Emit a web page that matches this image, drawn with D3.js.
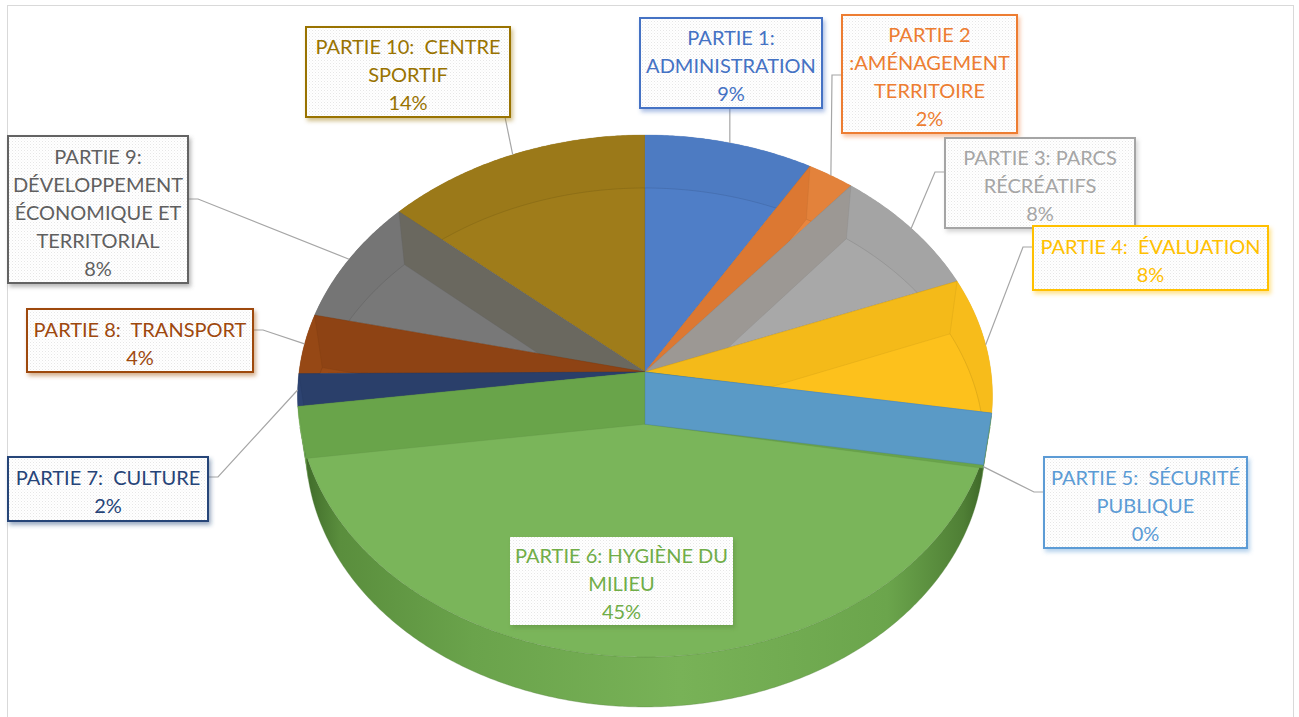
<!DOCTYPE html>
<html><head><meta charset="utf-8">
<script src="https://cdn.jsdelivr.net/npm/d3@7"></script>
<style>
body{margin:0;background:#fff;}
svg text{font-family:Lato,"Open Sans",sans-serif;white-space:pre;}
</style>
</head><body>
<svg id="chart" width="1299" height="717"></svg>
<script>
// ---------------- DATA ----------------
const categoryLines = [
  ["PARTIE 1:", "ADMINISTRATION"],
  ["PARTIE 2", ":AMÉNAGEMENT", "TERRITOIRE"],
  ["PARTIE 3: PARCS", "RÉCRÉATIFS"],
  ["PARTIE 4:  ÉVALUATION"],
  ["PARTIE 5:  SÉCURITÉ", "PUBLIQUE"],
  ["PARTIE 6: HYGIÈNE DU", "MILIEU"],
  ["PARTIE 7:  CULTURE"],
  ["PARTIE 8:  TRANSPORT"],
  ["PARTIE 9:", "DÉVELOPPEMENT", "ÉCONOMIQUE ET", "TERRITORIAL"],
  ["PARTIE 10:  CENTRE", "SPORTIF"]
];
const values = [8.6, 2.4, 8.1, 8.4, 0.2, 45.2, 2.0, 3.7, 7.8, 13.6];

// ---------------- STYLE ----------------
const paletteBase = ["#4472C4","#ED7D31","#A5A5A5","#FFC000","#5B9BD5","#70AD47","#264478","#9E480E","#636363","#997300"];
const topColors   = ["#4F7EC7","#E9853D","#A8A8A8","#FDC11C","#5B9BC9","#7AB55A","#2E4574","#9A4A16","#787878","#9F7C1A"];
const faceColors  = ["#4A76BC","#DC7832","#9C9894","#F4BA19","#5A9AC6","#69A44A","#2A3F6A","#8E4314","#6A685F","#93721A"];
const textColors  = ["#4472C4","#ED7D31","#A5A5A5","#FFC000","#5B9BD5","#70AD47","#264478","#9E480E","#5F5F5F","#997300"];
const paintOrder  = [9,0,1,8,2,3,7,6,5,4];

// label boxes (layout)
const boxes = [
 {x:640,y:18,w:182,h:90, side:"bottom"},
 {x:842,y:15,w:175,h:118, side:"left", ay:60},
 {x:945,y:138,w:190,h:90, side:"left", ay:34},
 {x:1033,y:226,w:235,h:64, side:"left", ay:21},
 {x:1044,y:457,w:203,h:91, side:"left", ay:35},
 {x:510,y:537,w:223,h:88, side:"none"},
 {x:8,y:457,w:200,h:64, side:"right", ay:20},
 {x:27,y:309,w:226,h:63, side:"right", ay:21},
 {x:8,y:136,w:180,h:147, side:"right", ay:63},
 {x:306,y:27,w:204,h:90, side:"bottom", ax:199}
];
const anchorDepth = [0,0,0,0,1,0,0,0,0,0];

// ---------------- PROJECTION ----------------
const cx = 645, cy = 372, F = 2498, L = 7.22;
const se = 0.748, ce = Math.sqrt(1 - se*se), depth = 0.2327;
function P(theta, r, z){
  const x = r*Math.sin(theta), y = r*Math.cos(theta);
  const zc = y*ce + L - z*se;
  const up = y*se + z*ce;
  return [cx + F*x/zc, cy - F*up/zc];
}
function arcPts(a, b, z){
  const n = Math.max(2, Math.ceil(Math.abs(b-a)/(Math.PI/360)));
  const pts = [];
  for(let i=0;i<=n;i++){ const t = a + (b-a)*i/n; pts.push(P(t,1,z)); }
  return pts;
}
const line = d3.line();
const closed = pts => line(pts) + "Z";
const thetaS = Math.acos(-1/(L*ce)); // silhouette angle

const total = d3.sum(values);
const pie = d3.pie().sort(null).value(d=>d).startAngle(0).endAngle(2*Math.PI);
const arcs = pie(values);

const svg = d3.select("#chart");
const defs = svg.append("defs");

// front wall gradient
const grad = defs.append("linearGradient").attr("id","frontGrad")
  .attr("gradientUnits","userSpaceOnUse").attr("x1",299).attr("x2",991).attr("y1",0).attr("y2",0);
[[0,"#3c6627"],[0.06,"#5a8e3d"],[0.25,"#6aa34b"],[0.55,"#78b257"],[0.85,"#6ba54c"],[0.96,"#4f7f35"],[1,"#385f24"]]
  .forEach(s=>grad.append("stop").attr("offset",s[0]).attr("stop-color",s[1]));

// label texture
const pat = defs.append("pattern").attr("id","tex").attr("width",3).attr("height",3).attr("patternUnits","userSpaceOnUse");
pat.append("rect").attr("width",3).attr("height",3).attr("fill","#ffffff");
pat.append("rect").attr("width",1).attr("height",1).attr("fill","#e6e6e6");
pat.append("rect").attr("x",1.5).attr("y",1.5).attr("width",1).attr("height",1).attr("fill","#efefef");

// chart frame
svg.append("rect").attr("x",7.5).attr("y",5.5).attr("width",1286).attr("height",730)
  .attr("fill","none").attr("stroke","#D9D9D9").attr("stroke-width",1);

const gPie = svg.append("g");

// front (outer-facing) walls
arcs.forEach((d,i)=>{
  const a = Math.max(d.startAngle, thetaS), b = Math.min(d.endAngle, 2*Math.PI - thetaS);
  if(b > a){
    const pts = arcPts(a,b,0).concat(arcPts(b,a,-depth));
    gPie.append("path").attr("d",closed(pts)).attr("fill","url(#frontGrad)")
      .attr("stroke", d3.color(topColors[i]).darker(0.9)).attr("stroke-opacity",0.35).attr("stroke-width",1);
  }
});

// slices in paint order: top face, inner-visible walls, cut faces
paintOrder.forEach(i=>{
  const d = arcs[i];
  const a0 = d.startAngle, a1 = d.endAngle;
  const top = topColors[i];
  const edge = d3.color(top).darker(0.7);
  if(a1 - a0 > 1e-6){
    gPie.append("path").attr("d", closed([P(0,0,0)].concat(arcPts(a0,a1,0))))
      .attr("fill", top).attr("stroke", edge).attr("stroke-opacity",0.35).attr("stroke-width",0.8);
    // back walls (seen from inside)
    const ranges = [[a0, Math.min(a1, thetaS)], [Math.max(a0, 2*Math.PI - thetaS), a1]];
    ranges.forEach(([a,b])=>{
      if(b - a > 1e-6){
        gPie.append("path").attr("d", closed(arcPts(a,b,0).concat(arcPts(b,a,-depth))))
          .attr("fill", d3.color(top).darker(0.07));
        gPie.append("path").attr("d", line(arcPts(a,b,-depth)))
          .attr("fill","none").attr("stroke", edge).attr("stroke-opacity",0.45).attr("stroke-width",1);
      }
    });
  }
  const face = a => closed([P(a,0,0), P(a,1,0), P(a,1,-depth), P(a,0,-depth)]);
  if(Math.sin(a0) > 0.01){
    gPie.append("path").attr("d", face(a0)).attr("fill", faceColors[i])
      .attr("stroke", edge).attr("stroke-opacity",0.35).attr("stroke-width",0.8);
  }
  if(Math.sin(a1) < -0.01){
    gPie.append("path").attr("d", face(a1)).attr("fill", faceColors[i])
      .attr("stroke", edge).attr("stroke-opacity",0.35).attr("stroke-width",0.8);
  }
});

// ---------------- LABELS ----------------
const gLead = svg.append("g");
const gLab = svg.append("g");
const lineH = 28;
arcs.forEach((d,i)=>{
  const bx = boxes[i];
  const mid = (d.startAngle + d.endAngle)/2;
  const anc = P(mid, 1, anchorDepth[i] ? -depth : 0);
  let pts = null;
  if(bx.side === "left"){ const y = bx.y + bx.ay; pts = [[bx.x,y],[bx.x-10,y],anc]; }
  else if(bx.side === "right"){ const y = bx.y + bx.ay; pts = [[bx.x+bx.w,y],[bx.x+bx.w+10,y],anc]; }
  else if(bx.side === "bottom"){ const x = bx.ax !== undefined ? bx.x + bx.ax : anc[0]; pts = [[x,bx.y+bx.h],anc]; }
  if(pts){
    gLead.append("path").attr("d", line(pts)).attr("fill","none")
      .attr("stroke","#A6A6A6").attr("stroke-width",1.2);
  }
  const col = paletteBase[i];
  const f = defs.append("filter").attr("id","sh"+i).attr("x","-20%").attr("y","-20%").attr("width","140%").attr("height","150%");
  f.append("feDropShadow").attr("dx",2).attr("dy",3).attr("stdDeviation",2.2)
    .attr("flood-color", i===5 ? "#5a8a3a" : col).attr("flood-opacity",0.45);
  const g = gLab.append("g");
  g.append("rect").attr("x",bx.x).attr("y",bx.y).attr("width",bx.w).attr("height",bx.h)
    .attr("fill","url(#tex)").attr("filter","url(#sh"+i+")")
    .attr("stroke", i===5 ? "none" : col).attr("stroke-width",2);
  const pct = Math.round(d.value/total*100) + "%";
  const lines = categoryLines[i].concat([pct]);
  const y0 = bx.y + bx.h/2 - (lines.length-1)*lineH/2 + 2;
  lines.forEach((t,k)=>{
    g.append("text").attr("x", bx.x + bx.w/2).attr("y", y0 + k*lineH)
      .attr("text-anchor","middle").attr("dominant-baseline","central")
      .attr("font-size",20).attr("fill", textColors[i]).text(t);
  });
});
</script>
</body></html>
